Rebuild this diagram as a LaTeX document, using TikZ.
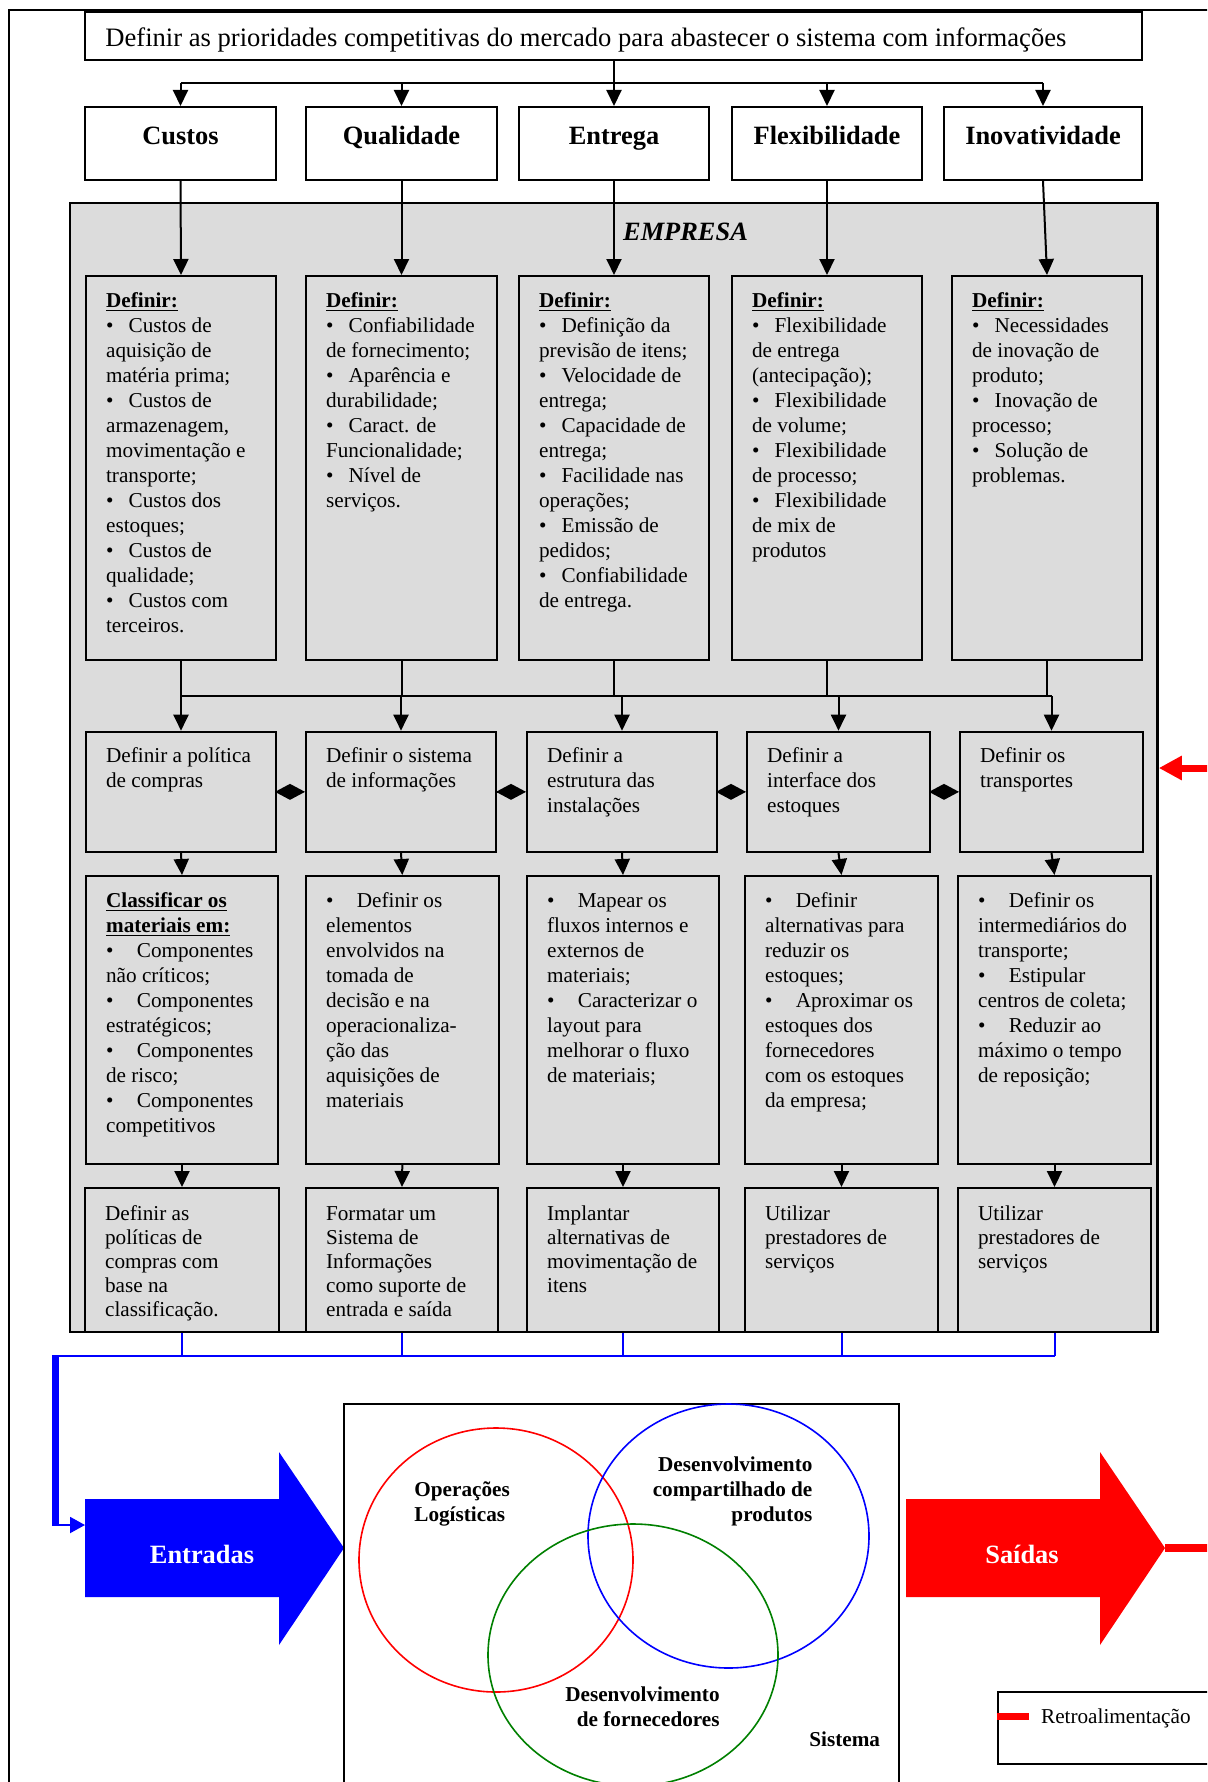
\documentclass[tikz,border=0pt]{standalone}
\usepackage{fontspec}
\setmainfont{Liberation Serif}
\usetikzlibrary{arrows.meta,fit,calc}
\definecolor{boxgray}{HTML}{DCDCDC}
\definecolor{vgreen}{RGB}{0,128,0}
\newcommand\bodyfont{\fontsize{10.6pt}{12.5pt}\selectfont}
\newcommand\rowfivefont{\fontsize{10.6pt}{12.1pt}\selectfont}
\newcommand\headfont{\fontsize{13.2pt}{15pt}\selectfont\bfseries}
\newcommand\bul{\makebox[11.3pt][l]{\textbullet}}
\newcommand\bulw{\makebox[15.4pt][l]{\textbullet}}
\newcommand\hd[1]{\underline{\textbf{#1}}}
% box from two corners, given in pixel units
\newcommand\bx[6]{\node[#6, fit={(#2,#3) (#4,#5)}] (#1) {};}
% multi-line text set inside a box, first baseline 32 units below the top
\newcommand\bt[2]{\node[tx] (#1t) at ($(#1.north west)+(20.7,32)$) {\parbox[t]{150pt}{\raggedright #2}};}
\newcommand\btv[2]{\node[tx, font=\rowfivefont] (#1t) at ($(#1.north west)+(20.7,33)$) {\parbox[t]{150pt}{\raggedright #2}};}
\newcommand\hl[2]{\node[anchor=base, inner sep=0pt, font=\headfont] (#1t) at ($(#1.north)+(0,38.5)$) {#2};}

\begin{document}
\begin{tikzpicture}[x=0.5pt,y=-0.5pt,
  gbox/.style={draw, line width=1pt, fill=boxgray, inner sep=0pt, rectangle},
  wbox/.style={draw, line width=1pt, fill=white, inner sep=0pt, rectangle},
  tx/.style={anchor=base west, inner sep=0pt, font=\bodyfont},
  conn/.style={line width=1pt},
  arr/.style={conn, -{Triangle[length=8pt,width=7.5pt]}},
  dia/.style={conn, -{Diamond[length=15pt,width=8pt]}},
  bline/.style={blue, line width=1pt},
  venn/.style={line width=0.8pt},
  vtext/.style={inner sep=0pt, font=\bodyfont\bfseries},
  bigarrowtext/.style={anchor=base, inner sep=0pt, text=white, font=\headfont}]
\clip (0,0) rectangle (1207,1782);
\fill[white] (0,0) rectangle (1207,1782);

% outer frame
\draw[line width=1.2pt] (9,1800) -- (9,10) -- (1220,10);

% market priorities
\bx{title}{85}{12.5}{1142}{60}{wbox}
\node[anchor=base west, inner sep=0pt, font=\fontsize{13.3pt}{16pt}\selectfont] (titlet) at ($(title.north west)+(21,35.5)$) {Definir as prioridades competitivas do mercado para abastecer o sistema com informações};

\bx{r1a}{85}{107}{276}{180}{wbox}
\bx{r1b}{306}{107}{497}{180}{wbox}
\bx{r1c}{519}{107}{709}{180}{wbox}
\bx{r1d}{732}{107}{922}{180}{wbox}
\bx{r1e}{944}{107}{1142}{180}{wbox}
\hl{r1a}{Custos}
\hl{r1b}{Qualidade}
\hl{r1c}{Entrega}
\hl{r1d}{Flexibilidade}
\hl{r1e}{Inovatividade}

% company block
\bx{emp}{70}{203}{1157.5}{1332}{gbox, line width=1.3pt}
\node[anchor=base, inner sep=0pt, font=\headfont\itshape] (empt) at (685.5,240) {EMPRESA};

% second row
\bx{r2a}{86}{276}{276}{660}{gbox}
\bx{r2b}{306}{276}{497}{660}{gbox}
\bx{r2c}{519}{276}{709}{660}{gbox}
\bx{r2d}{732}{276}{922}{660}{gbox}
\bx{r2e}{952}{276}{1142}{660}{gbox}
\bt{r2a}{\hd{Definir:}\\ \bul Custos de\\ aquisição de\\ matéria prima;\\ \bul Custos de\\ armazenagem,\\ movimentação e\\ transporte;\\ \bul Custos dos\\ estoques;\\ \bul Custos de\\ qualidade;\\ \bul Custos com\\ terceiros.}
\bt{r2b}{\hd{Definir:}\\ \bul Confiabilidade\\ de fornecimento;\\ \bul Aparência e\\ durabilidade;\\ \bul Caract. de\\ Funcionalidade;\\ \bul Nível de\\ serviços.}
\bt{r2c}{\hd{Definir:}\\ \bul Definição da\\ previsão de itens;\\ \bul Velocidade de\\ entrega;\\ \bul Capacidade de\\ entrega;\\ \bul Facilidade nas\\ operações;\\ \bul Emissão de\\ pedidos;\\ \bul Confiabilidade\\ de entrega.}
\bt{r2d}{\hd{Definir:}\\ \bul Flexibilidade\\ de entrega\\ (antecipação);\\ \bul Flexibilidade\\ de volume;\\ \bul Flexibilidade\\ de processo;\\ \bul Flexibilidade\\ de mix de\\ produtos}
\bt{r2e}{\hd{Definir:}\\ \bul Necessidades\\ de inovação de\\ produto;\\ \bul Inovação de\\ processo;\\ \bul Solução de\\ problemas.}

% third row
\bx{r3a}{86}{731.7}{276}{852}{gbox}
\bx{r3b}{306}{731.7}{496}{852}{gbox}
\bx{r3c}{527}{731.7}{717}{852}{gbox}
\bx{r3d}{747}{731.7}{930}{852}{gbox}
\bx{r3e}{960}{731.7}{1143}{852}{gbox}
\bt{r3a}{Definir a política\\ de compras}
\bt{r3b}{Definir o sistema\\ de informações}
\bt{r3c}{Definir a\\ estrutura das\\ instalações}
\bt{r3d}{Definir a\\ interface dos\\ estoques}
\bt{r3e}{Definir os\\ transportes}

% fourth row
\bx{r4a}{86}{876}{278}{1164}{gbox}
\bx{r4b}{306}{876}{498.6}{1164}{gbox}
\bx{r4c}{527}{876}{719}{1164}{gbox}
\bx{r4d}{745}{876}{938}{1164}{gbox}
\bx{r4e}{958}{876}{1151}{1164}{gbox}
\bt{r4a}{\hd{Classificar os}\\ \hd{materiais em:}\\ \bulw Componentes\\ não críticos;\\ \bulw Componentes\\ estratégicos;\\ \bulw Componentes\\ de risco;\\ \bulw Componentes\\ competitivos}
\bt{r4b}{\bulw Definir os\\ elementos\\ envolvidos na\\ tomada de\\ decisão e na\\ operacionaliza-\\ ção das\\ aquisições de\\ materiais}
\bt{r4c}{\bulw Mapear os\\ fluxos internos e\\ externos de\\ materiais;\\ \bulw Caracterizar o\\ layout para\\ melhorar o fluxo\\ de materiais;}
\bt{r4d}{\bulw Definir\\ alternativas para\\ reduzir os\\ estoques;\\ \bulw Aproximar os\\ estoques dos\\ fornecedores\\ com os estoques\\ da empresa;}
\bt{r4e}{\bulw Definir os\\ intermediários do\\ transporte;\\ \bulw Estipular\\ centros de coleta;\\ \bulw Reduzir ao\\ máximo o tempo\\ de reposição;}

% fifth row
\bx{r5a}{85}{1188}{279}{1332}{gbox}
\bx{r5b}{306}{1188}{498}{1332}{gbox}
\bx{r5c}{527}{1188}{719}{1332}{gbox}
\bx{r5d}{745}{1188}{938}{1332}{gbox}
\bx{r5e}{958}{1188}{1151}{1332}{gbox}
\btv{r5a}{Definir as\\ políticas de\\ compras com\\ base na\\ classificação.}
\btv{r5b}{Formatar um\\ Sistema de\\ Informações\\ como suporte de\\ entrada e saída}
\btv{r5c}{Implantar\\ alternativas de\\ movimentação de\\ itens}
\btv{r5d}{Utilizar\\ prestadores de\\ serviços}
\btv{r5e}{Utilizar\\ prestadores de\\ serviços}

% connectors: title to priorities
\coordinate (tb) at (613.5,83);
\draw[conn] (title.south) -- (title.south |- tb);
\draw[conn] (r1a.north |- tb) -- (r1e.north |- tb);
\foreach \n in {a,b,c,d,e} {
  \draw[arr] (r1\n.north |- tb) -- (r1\n.north);
  \draw[arr] (r1\n.south) -- (r2\n.north);
}
% connectors: second row to third row through a common bar
\coordinate (mb) at (0,696);
\foreach \n in {a,b,c,d,e} {
  \draw[conn] (r2\n.south) -- (r2\n.south |- mb);
  \draw[arr] (r3\n.north |- mb) -- (r3\n.north);
  \draw[arr] (r3\n.south) -- (r4\n.north);
  \draw[arr] (r4\n.south) -- (r5\n.north);
}
\draw[conn] (r2a.south |- mb) -- (r3e.north |- mb);
% links between the third-row boxes
\draw[dia] (r3a.east) -- (r3b.west);
\draw[dia] (r3b.east) -- (r3c.west);
\draw[dia] (r3c.east) -- (r3d.west);
\draw[dia] (r3d.east) -- (r3e.west);

% feedback into the company block
\coordinate (fb) at (0,768);
\draw[red, line width=3.5pt, -{Triangle[length=11.5pt,width=11.5pt]}] (1215,768) -- (emp.east |- fb);

% inputs
\coordinate (bb) at (0,1356);
\coordinate (bl) at (55,1356);
\coordinate (bd) at (55,1525);
\coordinate (entin) at (85,1525);
\foreach \n in {a,b,c,d,e} \draw[bline] (r5\n.south) -- (r5\n.south |- bb);
\draw[bline] (r5e.south |- bb) -- (bl);
\draw[blue, line width=3.5pt] (55,1355) -- (55,1526);
\draw[bline, -{Triangle[length=7.5pt,width=8pt]}] (bd) -- (entin);
\fill[blue] (85,1499) -- (279,1499) -- (279,1452) -- (344,1548) -- (279,1645) -- (279,1597) -- (85,1597) -- cycle;
\node[bigarrowtext] (ent) at (202,1563) {Entradas};

% system with its three areas
\bx{sis}{344}{1404}{899}{1810}{wbox}
\draw[venn, red] (496,1560) ellipse [x radius=68.5pt, y radius=66pt];
\draw[venn, blue] (728.5,1536) ellipse [x radius=70.25pt, y radius=66pt];
\draw[venn, vgreen] (633,1655) ellipse [x radius=72.5pt, y radius=65.5pt];
\node[vtext, anchor=base west] (opl) at (414,1496) {\parbox[t]{100pt}{Operações\\ Logísticas}};
\node[vtext, anchor=base east] (dcp) at (812.8,1471) {\parbox[t]{120pt}{\raggedleft Desenvolvimento\\ compartilhado de\\ produtos}};
\node[vtext, anchor=base east] (dfo) at (720,1701) {\parbox[t]{120pt}{\raggedleft Desenvolvimento\\ de fornecedores}};
\node[vtext, anchor=base west] (sist) at (809,1746) {Sistema};

% outputs
\fill[red] (906,1499) -- (1100,1499) -- (1100,1452) -- (1165,1548) -- (1100,1645) -- (1100,1597) -- (906,1597) -- cycle;
\coordinate (saitip) at (1165,1548);
\draw[red, line width=4pt] (saitip) -- (1220,1548);
\node[bigarrowtext] (sai) at (1022,1563) {Saídas};

% legend
\bx{leg}{997.7}{1692}{1220}{1764}{wbox}
\coordinate (lg) at (0,1716);
\draw[red, line width=3.5pt] (leg.west |- lg) -- (1028.7,1716);
\node[tx] (legt) at (1040.7,1723) {Retroalimentação};
\end{tikzpicture}
\end{document}
